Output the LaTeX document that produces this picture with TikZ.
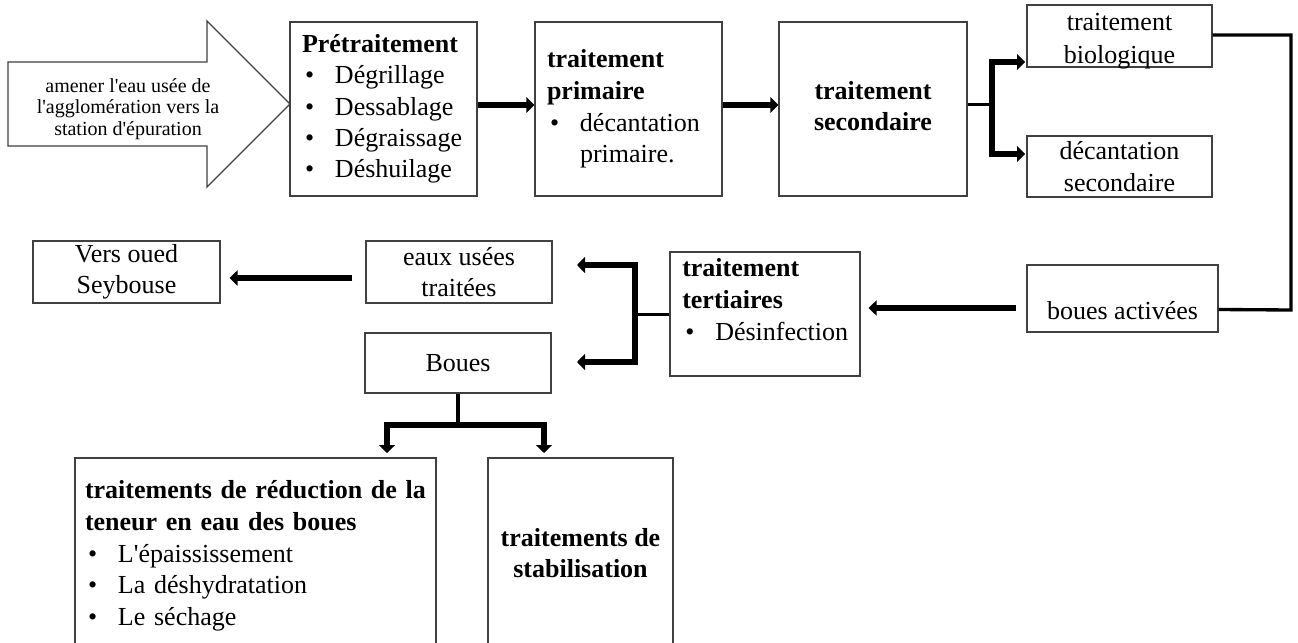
\documentclass[tikz,border=0pt]{standalone}
\usepackage{fontspec}
\newfontfamily\lsr{Liberation Serif}
\usetikzlibrary{arrows.meta,calc}
\newcommand\bitem[1]{\hspace*{2.25pt}\makebox[22.5pt][l]{\textbullet}#1}
\begin{document}
\begin{tikzpicture}[x=0.75pt,y=-0.75pt,
  every node/.style={font=\lsr\fontsize{19.5pt}{23.5pt}\selectfont, inner sep=0pt},
  srcfont/.style={font=\lsr\fontsize{15pt}{16.3pt}\selectfont},
  box/.style={draw=black!75, line width=1pt, fill=white},
  sz/.style 2 args={minimum width=#1*0.75pt, minimum height=#2*0.75pt},
  fat/.style={line width=5pt, -{Triangle[length=6pt,width=11.5pt]}},
  fork/.style={line width=5pt, {Triangle[length=6pt,width=12pt]}-{Triangle[length=6pt,width=12pt]}},
  thinc/.style={line width=2.25pt},
  loopc/.style={line width=2.5pt},
  stem/.style={line width=3.5pt}
]
\path[use as bounding box, fill=white] (0,0) rectangle (1298,642);
% source arrow
\draw[box] (8,62) -- (207,62) -- (207,21) -- (290,104) -- (207,187) -- (207,146) -- (8,146) -- cycle;
\node[srcfont, align=center] (src) at (128,109) {amener l'eau usée de\\l'agglomération vers la\\station d'épuration};
% top row
\node[box, sz={187}{174}, text width=122.25pt, align=left] (pre) at (383.5,109)
  {\textbf{Prétraitement}\\\bitem{Dégrillage}\\\bitem{Dessablage}\\\bitem{Dégraissage}\\\bitem{Déshuilage}};
\node[box, sz={187}{174}, text width=122.25pt, align=left, font=\lsr\fontsize{19.5pt}{23.75pt}\selectfont] (prim) at (628.5,109)
  {\textbf{traitement}\\\textbf{primaire}\\\bitem{décantation}\\\hspace*{24.75pt}primaire.};
\node[box, sz={188}{174}] (sec) at (873,109) {};
\node[align=center] (secT) at (873,106) {\textbf{traitement}\\\textbf{secondaire}};
\node[box, sz={185}{62}] (bio) at (1119.5,36) {};
\node[align=center, font=\lsr\fontsize{19.5pt}{24.75pt}\selectfont] (bioT) at (1119.5,41) {traitement\\biologique};
\node[box, sz={185}{61}, align=center] (decs) at (1119.5,166.5) {décantation\\secondaire};
% middle row
\node[box, sz={191}{67}, text height=33.75pt, text depth=3pt] (bact) at (1122.5,298.5) {boues activées};
\node[box, sz={190}{124}] (tert) at (765,314) {};
\node[anchor=north west, align=left, font=\lsr\fontsize{19.5pt}{24.25pt}\selectfont] (tertT) at (682,258)
  {\textbf{traitement}\\\textbf{tertiaires}\\\bitem{Désinfection}};
\node[box, sz={186}{62}, align=center] (eaux) at (459,272) {eaux usées\\traitées};
\node[box, sz={187}{62}, align=center] (vers) at (126.5,272) {Vers oued\\Seybouse};
\node[box, sz={186}{60}] (boues) at (458,363) {Boues};
% bottom row
\node[box, sz={361}{196}, text width=255.75pt, align=left, font=\lsr\fontsize{19.5pt}{23.75pt}\selectfont] (red) at (255.5,556)
  {\textbf{traitements de réduction de la}\\\textbf{teneur en eau des boues}\\\bitem{L'épaississement}\\\bitem{La déshydratation}\\\bitem{Le séchage}};
\node[box, sz={185}{190}, align=center] (stab) at (580.5,553) {\textbf{traitements de}\\\textbf{stabilisation}};
% connectors
\draw[fat] ([yshift=3pt]pre.east) -- ([yshift=3pt]prim.west);
\draw[fat] ([yshift=3pt]prim.east) -- ([yshift=3pt]sec.west);
\coordinate (f1) at (992,104);
\coordinate (b1) at (1025,62);
\coordinate (b2) at (1025,154);
\draw[thinc] (sec.east |- f1) -- (f1);
\draw[fork] (b1) -| (f1) |- (b2);
\coordinate (r1) at (1291,35);
\coordinate (r2) at (1291,310);
\draw[loopc] (bio.east |- r1) -- (r1) -- (r2) -- ([yshift=-8.25pt]bact.east);
\draw[fat, shorten <=7.5pt, shorten >=6pt] ([yshift=-7.125pt]bact.west) -- ([yshift=4.5pt]tert.east);
\coordinate (f2) at (635,313);
\coordinate (e1) at (577,265);
\coordinate (e2) at (577,362);
\draw[thinc] (tert.west) -- (tert.west -| f2);
\draw[fork] (e1) -| (f2) |- (e2);
\draw[fat, shorten <=9.75pt, shorten >=6.75pt] ([yshift=-4.5pt]eaux.west) -- ([yshift=-4.5pt]vers.east);
\coordinate (f3) at (458,425);
\coordinate (d1) at (387,453);
\coordinate (d2) at (544,453);
\draw[stem] (boues.south) -- (f3);
\draw[fork] (d1) |- (f3) -| (d2);
\end{tikzpicture}
\end{document}
